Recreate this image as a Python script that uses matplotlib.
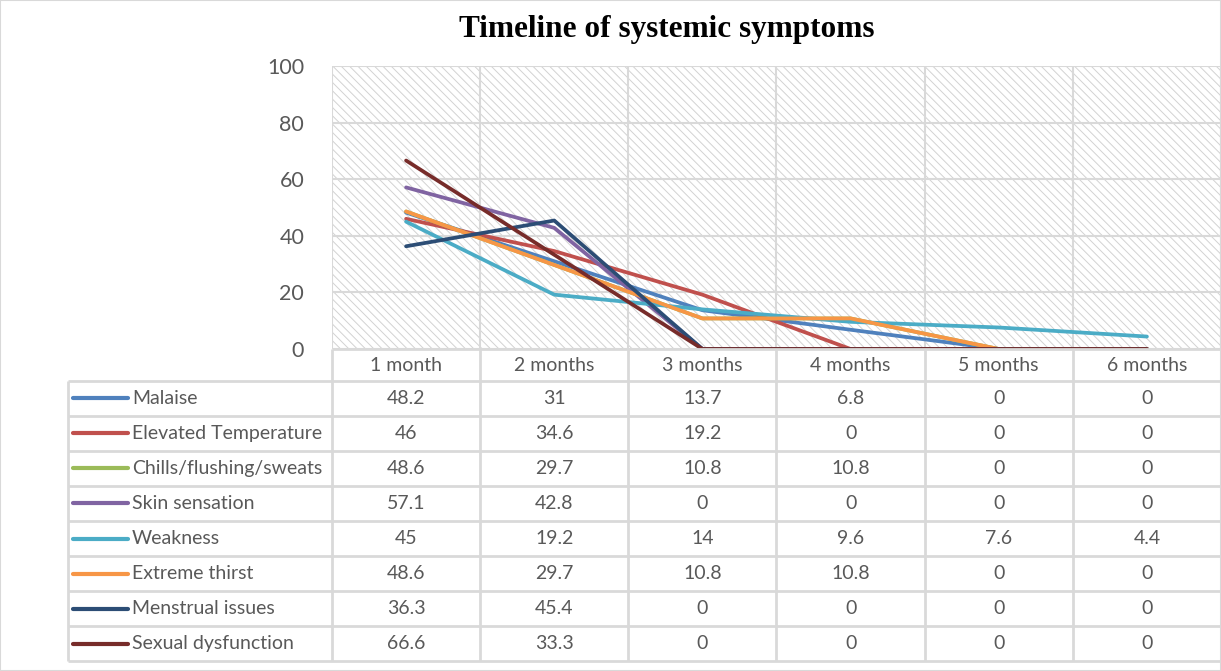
import matplotlib
matplotlib.use("Agg")
import matplotlib.pyplot as plt
from matplotlib.patches import Rectangle

months = ["1 month", "2 months", "3 months", "4 months", "5 months", "6 months"]

symptoms = [
    "Malaise",
    "Elevated Temperature",
    "Chills/flushing/sweats",
    "Skin sensation",
    "Weakness",
    "Extreme thirst",
    "Menstrual issues",
    "Sexual dysfunction",
]

malaise = [48.2, 31, 13.7, 6.8, 0, 0]
elevated_temperature = [46, 34.6, 19.2, 0, 0, 0]
chills_flushing_sweats = [48.6, 29.7, 10.8, 10.8, 0, 0]
skin_sensation = [57.1, 42.8, 0, 0, 0, 0]
weakness = [45, 19.2, 14, 9.6, 7.6, 4.4]
extreme_thirst = [48.6, 29.7, 10.8, 10.8, 0, 0]
menstrual_issues = [36.3, 45.4, 0, 0, 0, 0]
sexual_dysfunction = [66.6, 33.3, 0, 0, 0, 0]

series = [malaise, elevated_temperature, chills_flushing_sweats, skin_sensation,
          weakness, extreme_thirst, menstrual_issues, sexual_dysfunction]

colors = ["#4F81BD", "#C0504D", "#9BBB59", "#8064A2",
          "#4BACC6", "#F79646", "#2C4D75", "#772C2A"]

yticks = [0, 20, 40, 60, 80, 100]

FONT = "Lato"
TEXT = "#595959"
GRID = "#d9d9d9"
TAB_FS = 14

plt.rcParams["hatch.linewidth"] = 0.7

W, H = 1221, 671
fig = plt.figure(figsize=(W / 100, H / 100), dpi=100)

# plot area and table geometry (pixels)
px_left, px_right = 332, 1221
px_top, px_bottom = 66, 349
tab_left, tab_bottom = 68, 661
head_h, row_h = 32, 35

ax = fig.add_axes([px_left / W, 1 - px_bottom / H,
                   (px_right - px_left) / W, (px_bottom - px_top) / H])
ax.set_xlim(-0.5, len(months) - 0.5)
ax.set_ylim(0, 100)
for s in ax.spines.values():
    s.set_visible(False)

# diagonal hatch fill of the plot area
ax.add_patch(Rectangle((0, 0), 1, 1, transform=ax.transAxes, facecolor="white",
                       edgecolor="#d2d2d2", lw=0, hatch="\\\\\\\\", zorder=0))

for y in yticks:
    ax.axhline(y, color=GRID, lw=1.5, zorder=1)
for k in range(len(months) + 1):
    ax.axvline(k - 0.5, color=GRID, lw=1.5, zorder=1)

x = list(range(len(months)))
for vals, c in zip(series, colors):
    ax.plot(x, vals, color=c, lw=2.7, solid_capstyle="round",
            solid_joinstyle="round", zorder=3)

ax.set_xticks([])
ax.set_yticks(yticks)
ax.tick_params(axis="y", length=0, pad=20, labelsize=15.5, labelcolor=TEXT)
for lab in ax.get_yticklabels():
    lab.set_fontfamily(FONT)

# data table below the plot, sharing the category columns
col_w = (px_right - px_left) / len(months)
label_w = (px_left - tab_left) / col_w
n = len(symptoms)
tab = fig.add_axes([tab_left / W, 1 - tab_bottom / H,
                    (px_right - tab_left) / W, (tab_bottom - px_bottom) / H])
tab.set_xlim(-0.5 - label_w, len(months) - 0.5)
tab.set_ylim(head_h + n * row_h, 0)
tab.axis("off")

lkw = dict(color=GRID, lw=2, solid_capstyle="butt", clip_on=False)
# header row: only the month columns are boxed
tab.plot([-0.5, len(months) - 0.5], [0, 0], **lkw)
for r in range(n + 1):
    y = head_h + r * row_h
    tab.plot([-0.5 - label_w, len(months) - 0.5], [y, y], **lkw)
tab.plot([-0.5 - label_w] * 2, [head_h, head_h + n * row_h], **lkw)
for k in range(len(months) + 1):
    tab.plot([k - 0.5] * 2, [0, head_h + n * row_h], **lkw)

for i, m in enumerate(months):
    tab.text(i, head_h / 2 + 1, m, ha="center", va="center", fontsize=TAB_FS,
             color=TEXT, family=FONT)

x0 = -0.5 - label_w
for r, (name, vals, c) in enumerate(zip(symptoms, series, colors)):
    yc = head_h + (r + 0.5) * row_h
    tab.plot([x0 + 5 / col_w, x0 + 60 / col_w], [yc, yc], color=c, lw=3,
             solid_capstyle="round", clip_on=False)
    tab.text(x0 + 64 / col_w, yc, name, ha="left", va="center", fontsize=TAB_FS,
             color=TEXT, family=FONT)
    for i, v in enumerate(vals):
        tab.text(i, yc, f"{v:g}", ha="center", va="center", fontsize=TAB_FS,
                 color=TEXT, family=FONT)

fig.text(667 / W, 1 - 30 / H, "Timeline of systemic symptoms", ha="center",
         va="center", fontsize=22.5, fontweight="bold", family="Liberation Serif")

fig.add_artist(Rectangle((0, 0), 1, 1, transform=fig.transFigure, fill=False,
                         edgecolor=GRID, lw=1.5))

fig.savefig("out.png", dpi=100)
